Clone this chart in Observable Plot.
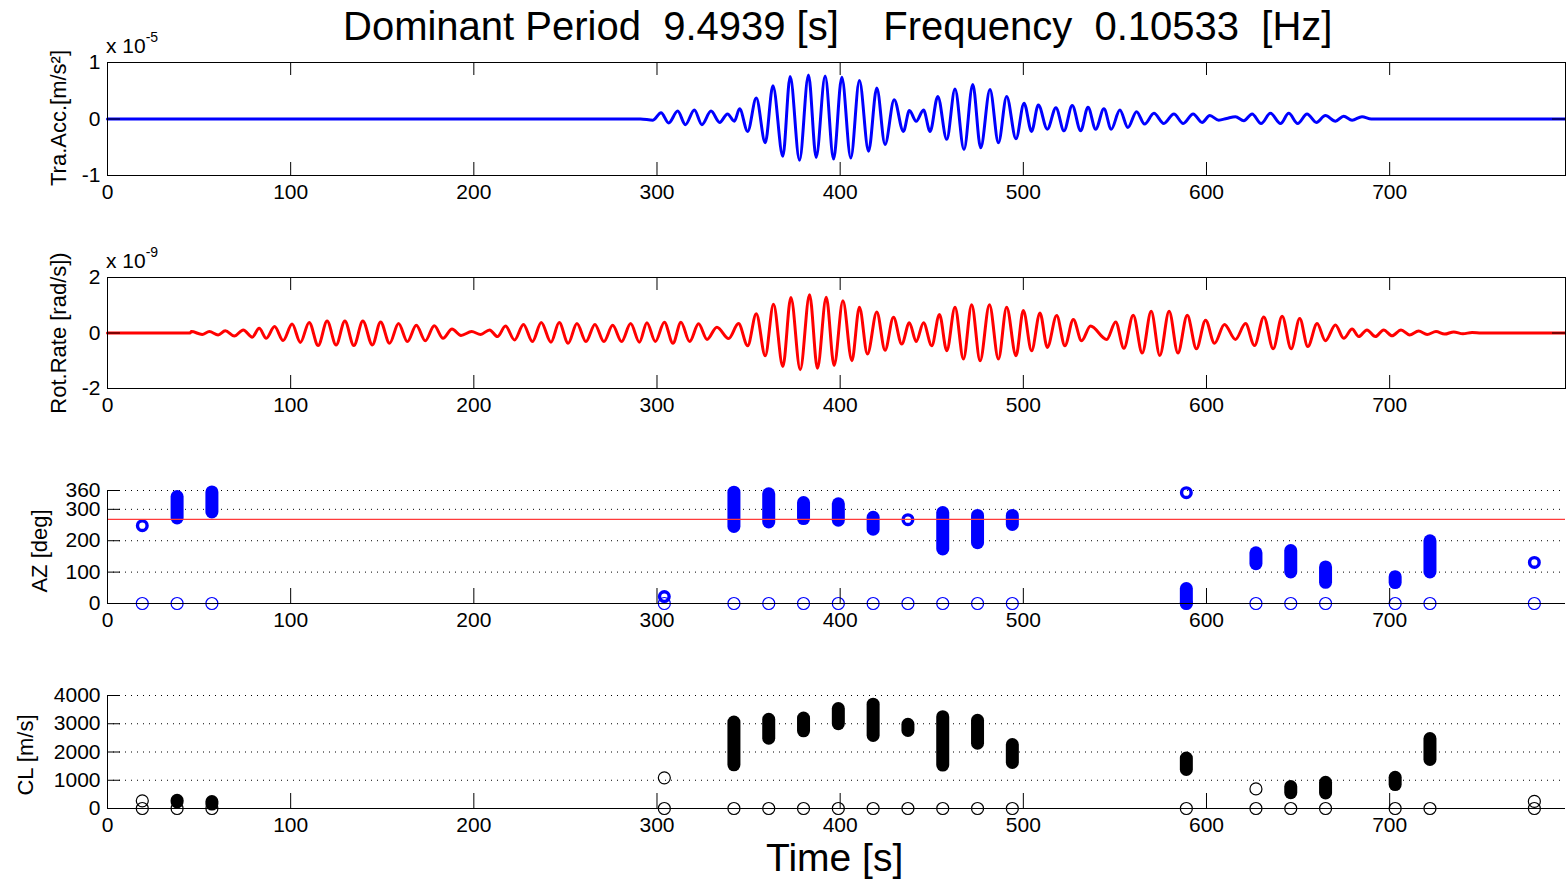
<!DOCTYPE html>
<html><head><meta charset="utf-8">
<script src="https://cdn.jsdelivr.net/npm/d3@7"></script>
<script src="https://cdn.jsdelivr.net/npm/@observablehq/plot@0.6"></script>
<style>
body{margin:0;background:#fff;}
#fig{position:relative;width:1566px;height:882px;overflow:hidden;font-family:"Liberation Sans",Arial,Helvetica,sans-serif;color:#000;background:#fff;}
.abs{position:absolute;white-space:pre;line-height:1;}
.ylab{position:absolute;white-space:pre;line-height:1;font-size:22px;transform:translate(-50%,-50%) rotate(-90deg);}
.sup{font-size:14px;position:relative;top:-11px;}
</style></head><body><div id="fig"></div>
<script>
// ---------------- data ----------------
const titleText = "Dominant Period  9.4939 [s]    Frequency  0.10533  [Hz]";
const xLabel = "Time [s]";
const xTicks = [0, 100, 200, 300, 400, 500, 600, 700];

// Translational acceleration (x 1e-5 m/s^2): extrema
const traT = [0, 150, 291, 297.8, 302.2, 306.4, 311.3, 315.5, 320.4, 324.5, 329.5, 334.2, 338.5, 342.2, 345.1, 349.5, 354.2, 359.1, 363.3, 368.7, 372.7, 377.8, 382.7, 386.9, 391.8, 396.4, 400.9, 405.8, 410.5, 415.5, 420.0, 424.5, 429.5, 434.5, 437.8, 441.5, 445.5, 449.1, 453.3, 458.2, 462.7, 467.6, 472.4, 476.7, 481.8, 486.4, 490.9, 496.0, 500.4, 504.5, 508.2, 513.1, 517.8, 522.2, 526.7, 531.3, 535.3, 539.5, 544.0, 548.0, 552.7, 557.1, 561.8, 566.2, 571.3, 576.7, 582.2, 587.3, 592.7, 597.6, 601.8, 606.7, 611, 615.8, 620.4, 624.9, 629.8, 634.9, 640.4, 644.9, 649.8, 654.9, 660.0, 664.9, 670.4, 674.9, 679.5, 684.9, 690, 796];
const traV = [0, 0, 0, -0.02, 0.11, -0.07, 0.14, -0.10, 0.16, -0.10, 0.14, -0.06, 0.09, -0.04, 0.18, -0.22, 0.37, -0.42, 0.59, -0.66, 0.75, -0.73, 0.78, -0.68, 0.76, -0.71, 0.74, -0.69, 0.68, -0.57, 0.55, -0.45, 0.34, -0.22, 0.15, -0.04, 0.16, -0.22, 0.40, -0.36, 0.53, -0.54, 0.61, -0.51, 0.52, -0.42, 0.40, -0.35, 0.28, -0.22, 0.25, -0.18, 0.20, -0.21, 0.24, -0.21, 0.21, -0.18, 0.18, -0.18, 0.16, -0.15, 0.13, -0.09, 0.10, -0.08, 0.09, -0.08, 0.09, -0.06, 0.06, -0.02, 0.01, 0.04, -0.03, 0.09, -0.08, 0.10, -0.08, 0.10, -0.08, 0.09, -0.06, 0.06, -0.04, 0.05, -0.02, 0.04, 0, 0];

// Rotation rate (x 1e-9 rad/s): extrema
const rotT = [0, 45, 45.8, 51.7, 55.6, 60.4, 64.3, 69.2, 74.1, 79, 82.8, 86.7, 91.2, 95.9, 100.8, 105.3, 110.1, 115, 119.9, 124.8, 129.6, 134.5, 139.4, 144.6, 149.1, 154, 158.9, 163.7, 168.6, 173.5, 178.4, 183.2, 188.1, 193, 198.8, 203.7, 208.6, 212.9, 217.3, 222.2, 227.1, 232, 236.8, 242.1, 246.6, 251.5, 256.3, 261.2, 266.1, 271, 275.8, 280.7, 285.6, 290.4, 294.5, 299.1, 304, 308.7, 313.1, 317.8, 322.7, 327.3, 332.7, 339.1, 344.5, 349.5, 354.2, 359.1, 363.6, 368.7, 373.1, 378.2, 383.3, 387.6, 392.4, 396.7, 401.5, 406.4, 410.5, 414.9, 420, 424.5, 429.1, 433.6, 437.8, 441.5, 445.5, 450, 454.2, 458.2, 462.7, 467.3, 471.8, 476.4, 481.5, 486.4, 490.9, 496, 500, 504.5, 509.1, 513.1, 518.2, 522.7, 527.3, 531.8, 536.7, 545.5, 550.4, 554.9, 560, 564.9, 569.8, 574.5, 579.6, 584.4, 589.5, 594.5, 599.5, 604.4, 609.8, 615.8, 621.3, 626.2, 631.3, 636.4, 641.3, 646.2, 650.9, 655.3, 660.4, 664.9, 670.4, 674.9, 679.5, 683.1, 687.6, 692.2, 696.7, 701.3, 706.2, 710.9, 715.8, 720.5, 725.3, 730, 735, 740, 745, 750, 796];
const rotV = [0, 0, 0.05, -0.05, 0.05, -0.07, 0.08, -0.11, 0.11, -0.15, 0.17, -0.19, 0.23, -0.27, 0.32, -0.34, 0.38, -0.45, 0.43, -0.43, 0.43, -0.45, 0.43, -0.43, 0.40, -0.37, 0.34, -0.31, 0.28, -0.28, 0.26, -0.19, 0.14, -0.09, 0.05, -0.05, 0.11, -0.13, 0.25, -0.25, 0.31, -0.31, 0.38, -0.33, 0.38, -0.37, 0.34, -0.31, 0.31, -0.31, 0.28, -0.31, 0.34, -0.33, 0.37, -0.31, 0.39, -0.37, 0.39, -0.31, 0.33, -0.23, 0.21, -0.20, 0.34, -0.46, 0.69, -0.82, 1.04, -1.21, 1.28, -1.32, 1.38, -1.27, 1.29, -1.17, 1.16, -1.00, 0.93, -0.76, 0.76, -0.62, 0.57, -0.40, 0.37, -0.31, 0.37, -0.46, 0.67, -0.64, 0.93, -0.94, 1.02, -1.00, 1.02, -0.94, 0.93, -0.82, 0.81, -0.64, 0.72, -0.52, 0.63, -0.46, 0.49, -0.28, 0.25, -0.23, 0.40, -0.55, 0.64, -0.72, 0.78, -0.81, 0.78, -0.72, 0.64, -0.57, 0.46, -0.37, 0.31, -0.23, 0.34, -0.45, 0.58, -0.57, 0.60, -0.57, 0.52, -0.49, 0.34, -0.28, 0.29, -0.19, 0.14, -0.13, 0.11, -0.13, 0.11, -0.10, 0.11, -0.07, 0.07, -0.05, 0.05, -0.04, 0.04, -0.03, 0.02, 0, 0];

// analysis windows (centre times, s)
const windowT = [19, 38, 57, 304, 342, 361, 380, 399, 418, 437, 456, 475, 494, 589, 627, 646, 665, 703, 722, 779];

// azimuth (deg): ranges and single estimates per window
const azRangeT  = [38, 57, 342, 361, 380, 399, 418, 456, 475, 494, 589, 627, 646, 665, 703, 722];
const azRangeLo = [271, 290, 244, 258, 269, 264, 235, 172, 192, 250, 0, 125, 99, 66, 65, 99];
const azRangeHi = [339, 354, 353, 348, 320, 316, 273, 288, 279, 279, 46, 160, 167, 115, 84, 198];
const azPointT  = [19, 304, 437, 589, 779];
const azPointV  = [248, 22, 267, 353, 131];
const azRef = 268;
const azTicks = [0, 100, 200, 300, 360];
const azGrid = [100, 200, 300, 360];

// phase velocity CL (m/s)
const clRangeT  = [38, 57, 342, 361, 380, 399, 418, 437, 456, 475, 494, 589, 646, 665, 703, 722];
const clRangeLo = [220, 140, 1529, 2471, 2732, 2982, 2568, 2746, 1518, 2293, 1614, 1364, 543, 532, 829, 1721];
const clRangeHi = [270, 230, 3043, 3139, 3186, 3518, 3675, 2961, 3232, 3104, 2246, 1768, 757, 911, 1089, 2461];
const clPointT  = [19, 304, 627, 779];
const clPointV  = [270, 1086, 693, 250];
const clTicks = [0, 1000, 2000, 3000, 4000];
const clGrid = [1000, 2000, 3000, 4000];

// ---------------- layout ----------------
const W = 1566, ML = 107, MR = 1, MT = 22, MB = 35;
const PW = W - ML - MR;
const xDomain = [0, 796];
const fig = document.getElementById("fig");
const zip = (a, b) => a.map((t, i) => ({t, v: b[i]}));
const zip3 = (a, b, c) => a.map((t, i) => ({t, lo: b[i], hi: c[i]}));

function addDiv(cls, html, left, top, extra) {
  const d = document.createElement("div");
  d.className = cls;
  d.innerHTML = html;
  d.style.left = left + "px";
  d.style.top = top + "px";
  if (extra) Object.assign(d.style, extra);
  fig.appendChild(d);
  return d;
}

function panel({top, ph, yDomain, yTicks, box, grid, xTick, marks}) {
  const H = MT + ph + MB;
  const m = [];
  if (grid) m.push(Plot.ruleY(grid, {y: d => d, stroke: "#000", strokeWidth: 1, strokeDasharray: "1,5"}));
  m.push(...marks);
  if (box) {
    m.push(Plot.frame({stroke: "#000", strokeWidth: 1}));
    m.push(Plot.tickX(xTicks, {x: d => d, insetBottom: ph - 13, stroke: "#000"}));
    m.push(Plot.tickY(yTicks, {y: d => d, insetLeft: PW - 13, stroke: "#000"}));
  } else {
    m.push(Plot.ruleX([0], {stroke: "#000", strokeWidth: 1}));
    m.push(Plot.ruleY([yDomain[0]], {stroke: "#000", strokeWidth: 1}));
  }
  m.push(Plot.tickX(xTicks, {x: d => d, insetTop: ph - xTick, stroke: "#000"}));
  m.push(Plot.tickY(yTicks, {y: d => d, insetRight: PW - 13, stroke: "#000"}));
  m.push(Plot.axisX(xTicks, {tickSize: 0, tickPadding: 9, label: null, tickFormat: d => String(d)}));
  m.push(Plot.axisY(yTicks, {tickSize: 0, tickPadding: 7, label: null, tickFormat: d => String(d)}));
  const svg = Plot.plot({
    width: W, height: H,
    marginLeft: ML, marginRight: MR, marginTop: MT, marginBottom: MB,
    x: {domain: xDomain},
    y: {domain: yDomain},
    style: {fontSize: "21px", fontFamily: "'Liberation Sans', Arial, Helvetica, sans-serif", color: "#000", background: "transparent", overflow: "visible"},
    marks: m
  });
  const d = document.createElement("div");
  d.style.position = "absolute";
  d.style.left = "0px";
  d.style.top = (top - MT) + "px";
  d.appendChild(svg);
  fig.appendChild(d);
}

// Panel 1: translational acceleration
panel({top: 62, ph: 113, yDomain: [-1, 1], yTicks: [-1, 0, 1], box: true, xTick: 13,
  marks: [Plot.line(zip(traT, traV), {x: "t", y: "v", stroke: "#0000ff", strokeWidth: 3, curve: "monotone-x"})]});

// Panel 2: rotation rate
panel({top: 277, ph: 111, yDomain: [-2, 2], yTicks: [-2, 0, 2], box: true, xTick: 13,
  marks: [Plot.line(zip(rotT, rotV), {x: "t", y: "v", stroke: "#ff0000", strokeWidth: 3, curve: "monotone-x"})]});

// Panel 3: azimuth
panel({top: 490, ph: 113, yDomain: [0, 360], yTicks: azTicks, box: false, grid: azGrid, xTick: 15,
  marks: [
    Plot.dot(windowT, {x: d => d, y: () => 0, r: 6, stroke: "#0000ff", strokeWidth: 1.2, fill: "none"}),
    Plot.ruleX(zip3(azRangeT, azRangeLo, azRangeHi), {x: "t", y1: "lo", y2: "hi", stroke: "#0000ff", strokeWidth: 13, strokeLinecap: "round"}),
    Plot.dot(zip(azPointT, azPointV), {x: "t", y: "v", r: 4.8, stroke: "#0000ff", strokeWidth: 3.4, fill: "none"}),
    Plot.ruleY([azRef], {stroke: "#ff3b3b", strokeWidth: 1.3})
  ]});

// Panel 4: phase velocity
panel({top: 695, ph: 113, yDomain: [0, 4000], yTicks: clTicks, box: false, grid: clGrid, xTick: 15,
  marks: [
    Plot.dot(windowT, {x: d => d, y: () => 0, r: 6, stroke: "#000", strokeWidth: 1.2, fill: "none"}),
    Plot.dot(zip(clPointT, clPointV), {x: "t", y: "v", r: 6, stroke: "#000", strokeWidth: 1.2, fill: "none"}),
    Plot.ruleX(zip3(clRangeT, clRangeLo, clRangeHi), {x: "t", y1: "lo", y2: "hi", stroke: "#000", strokeWidth: 13, strokeLinecap: "round"})
  ]});

// ---------------- texts ----------------
addDiv("abs", titleText, 343, 6, {fontSize: "40px"});
addDiv("abs", xLabel, 766, 838, {fontSize: "39px"});
addDiv("abs", 'x 10<span class="sup">-5</span>', 106, 35, {fontSize: "21px"});
addDiv("abs", 'x 10<span class="sup">-9</span>', 106, 250, {fontSize: "21px"});
addDiv("ylab", "Tra.Acc.[m/s²]", 59, 118);
addDiv("ylab", "Rot.Rate [rad/s])", 59, 333);
addDiv("ylab", "AZ [deg]", 40, 551);
addDiv("ylab", "CL [m/s]", 26, 755);
</script>
</body></html>
